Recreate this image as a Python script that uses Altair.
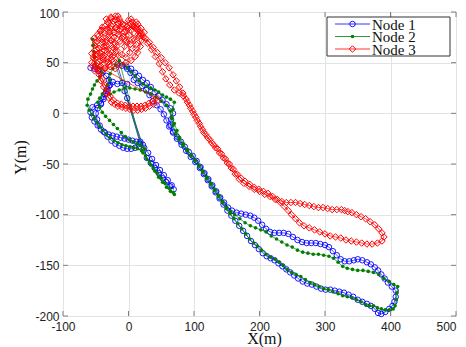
import altair as alt
import pandas as pd

names = ["Node 1", "Node 2", "Node 3"]
x_ticks = [-100, 0, 100, 200, 300, 400, 500]
y_ticks = [-200, -150, -100, -50, 0, 50, 100]

# Node 1 (blue, circles)
n1_x = [-58, -52, -46, -40, -34, -30, -28, -32, -36, -38,
        -42, -48, -55, -58, -56, -52, -47, -42, -36, -30,
        -24, -18, -12, -6, 0, 6, 12, 18, 22, 16,
        10, 4, -2, -8, -14, -20, -26, -32, -38, -44,
        -48, -50, -47, -42, -38, -34, -30, -24, -17, -10,
        -2, -6, -2, 28, 34, 40, 46, 52, 58, 64,
        69, 66, 60, 54, 48, 42, 36, 30, 24, 18,
        -17, -10, -3, 4, 10, 16, 22, 28, 34, 40,
        46, 52, 58, 64, 68, 65, 64, 68, 74, 80,
        86, 92, 98, 104, 110, 116, 122, 128, 134, 140,
        146, 152, 158, 165, 172, 179, 186, 192, 198, 204,
        210, 216, 223, 230, 237, 244, 251, 258, 265, 272,
        279, 286, 293, 300, 306, 312, 318, 324, 330, 337,
        344, 350, 357, 364, 370, 376, 381, 386, 391, 396,
        402, 408, 408, 406, 403, 398, 392, 386, 381, 376,
        370, 364, 357, 350, 343, 336, 329, 322, 315, 308,
        301, 294, 287, 280, 273, 266, 259, 253, 247, 241,
        235, 229, 223, 217, 211, 205, 199, 193, 187, 181,
        175, 169, 163, 157, 151, 145, 139, 133, 127, 121,
        115, 109, 102, 95, 88, 81, 74, 68, 62, 58,
        54, 49, 43, 37, 32, 27, 21, 14, 8, 3,
        -2]
n1_y = [45, 44, 42, 40, 37, 33, 28, 24, 19, 14,
        10, 8, 6, 1, -4, -8, -12, -16, -19, -21,
        -22, -23, -24, -25, -26, -27, -28, -28, -31, -33,
        -34, -35, -35, -34, -32, -30, -27, -23, -18, -12,
        -6, 0, 5, 9, 16, 22, 27, 31, 29, 30,
        29, 22, 15, -44, -49, -54, -59, -64, -68, -72,
        -75, -71, -66, -61, -56, -51, -45, -39, -34, -30,
        48, 47, 46, 44, 40, 37, 33, 30, 26, 21,
        17, 13, 9, 5, 0, -6, -12, -18, -23, -28,
        -33, -38, -42, -47, -53, -59, -65, -71, -77, -83,
        -88, -93, -96, -98, -99, -100, -101, -103, -106, -110,
        -114, -117, -118, -118, -118, -119, -122, -125, -127, -128,
        -128, -128, -129, -130, -132, -136, -140, -144, -146, -146,
        -145, -144, -145, -147, -149, -152, -155, -159, -163, -167,
        -171, -175, -181, -186, -190, -193, -196, -198, -197, -193,
        -190, -188, -186, -184, -181, -179, -177, -176, -175, -174,
        -174, -173, -171, -169, -168, -166, -163, -160, -157, -154,
        -151, -148, -145, -143, -141, -138, -134, -130, -126, -121,
        -116, -111, -106, -101, -96, -90, -84, -78, -72, -66,
        -60, -54, -48, -43, -37, -31, -25, -19, -13, -7,
        -1, 4, 8, 12, 18, 23, 27, 30, 33, 40,
        44]

# Node 2 (green, dots)
n2_x = [-55, -54, -53, -52, -51, -47, -43, -40, -44, -48,
        -52, -55, -58, -62, -63, -60, -56, -52, -48, -44,
        -39, -34, -28, -22, -16, -10, -4, 2, 8, 14,
        20, 25, 19, 13, 7, 1, -5, -11, -17, -23,
        -29, -35, -40, -44, -47, -44, -40, -36, -32, -29,
        -28, -24, -20, 26, 32, 38, 44, 50, 56, 62,
        68, 70, 64, 58, 52, 46, 40, 34, 28, 22,
        -14, -8, -2, 4, 10, 16, 22, 28, 34, 40,
        46, 52, 58, 64, 70, 68, 66, 70, 74, 78,
        84, 90, 96, 102, 108, 114, 120, 126, 132, 138,
        144, 150, 156, 162, 170, 178, 186, 194, 202, 210,
        218, 226, 234, 242, 250, 258, 266, 274, 282, 290,
        298, 306, 313, 320, 327, 334, 342, 350, 358, 366,
        374, 382, 390, 398, 405, 411, 410, 409, 407, 404,
        398, 392, 386, 380, 374, 368, 362, 355, 348, 341,
        334, 327, 320, 312, 305, 298, 291, 284, 277, 270,
        263, 256, 249, 242, 236, 230, 224, 217, 210, 203,
        197, 191, 185, 179, 173, 167, 161, 155, 149, 143,
        137, 131, 125, 119, 113, 107, 101, 95, 89, 83,
        77, 72, 68, 66, 64, 58, 50, 42, 34, 26,
        18, 10, 2, -6, -14, -22, -28]
n2_y = [73, 67, 61, 55, 49, 46, 44, 40, 36, 32,
        28, 24, 19, 14, 8, 3, -1, -5, -9, -13,
        -17, -21, -24, -27, -29, -31, -32, -33, -34, -35,
        -37, -35, -32, -30, -28, -26, -23, -19, -15, -11,
        -7, -3, 1, 6, 11, 15, 19, 23, 28, 33,
        39, 44, 48, -42, -48, -54, -59, -64, -69, -74,
        -78, -80, -77, -73, -68, -63, -57, -51, -45, -39,
        52, 49, 45, 41, 37, 32, 29, 27, 25, 23,
        21, 18, 16, 14, 11, 4, -3, -10, -17, -24,
        -30, -36, -41, -46, -51, -57, -63, -69, -75, -81,
        -87, -93, -97, -100, -104, -108, -111, -113, -115, -117,
        -121, -124, -127, -130, -132, -135, -137, -138, -139, -139,
        -140, -141, -143, -147, -151, -153, -154, -155, -155, -156,
        -157, -159, -163, -166, -169, -171, -177, -184, -190, -193,
        -194, -194, -193, -192, -190, -190, -189, -186, -184, -182,
        -181, -180, -178, -176, -174, -173, -171, -169, -167, -164,
        -161, -159, -157, -154, -150, -147, -144, -142, -139, -135,
        -131, -128, -124, -119, -114, -109, -104, -99, -94, -88,
        -82, -76, -70, -64, -58, -52, -47, -42, -37, -32,
        -26, -20, -12, -5, 2, 8, 12, 16, 19, 21,
        23, 24, 25, 25, 23, 21, 19]

# Node 3 (red, diamonds)
n3_x = [44, 38, 32, 26, 20, 14, 8, 2, -4, -10,
        -16, -21, -26, -30, -34, -38, -42, -45, -48, -44,
        -40, -36, -32, -28, -23, -17, -11, -5, 1, 7,
        13, 19, 25, 31, 37, 42,
        -50, -54, -52, -47, -42, -45, -50, -46, -40, -36,
        -38, -32, -28, -33, -38, -42, -36, -30, -26, -22,
        -25, -20, -15, -18, -22, -28, -32, -26, -20, -16,
        -12, -14, -10, -6, -10, -4, 2, -2, -6, -2,
        4, 8, 12, 6, 14, 18, 16, 12, 6, 0,
        -8, -20, -34, -44, -56, -52, -44, -36, -28, -20,
        -12, -4, 4, 10, 20, 24, 14, 4,
        -55, -49, -43, -36, -29, -25, -31, -38, -45, -52,
        -56, -50, -44, -37, -30, -23, -18, -24, -31, -38,
        -45, -52, -53, -48, -41, -34, -27, -20, -13, -8,
        -15, -22, -29, -36, -43, -47, -40, -33, -26, -19,
        -12, -16, -23, -30, -34, -27, -20, -14, -9, -4,
        1, -3, 3, 9, 15, 19, 12, 6, 0,
        8, 14, 20, 26, 32, 38, 44, 50, 56, 62,
        68, 73, 78, 83, 88, 93, 98, 103, 108, 113,
        118, 124, 130, 136, 142, 148, 154, 160, 166, 172,
        178, 185, 192, 199, 206, 213, 220, 227, 234, 241,
        248, 255, 262, 269, 276, 283, 290, 297, 304, 311,
        318, 325, 330, 335, 341, 348, 355, 362, 369, 376,
        382, 387, 390, 387, 380, 372, 364, 356, 348, 340,
        332, 324, 316, 308, 300, 292, 284, 276, 268, 261,
        255, 249, 244, 238, 232, 224, 216, 208, 200, 192,
        184, 176, 169, 163, 157, 151, 145, 139, 133, 127,
        121, 115, 110, 105, 100, 95, 90, 84, 77, 70,
        63, 57, 52, 47, 41, 35, 29, 23, 17, 10,
        3]
n3_y = [12, 9, 7, 5, 4, 3, 3, 4, 5, 6,
        7, 9, 11, 15, 20, 26, 32, 38, 44, 40,
        34, 28, 22, 17, 13, 10, 9, 8, 7, 7,
        7, 7, 8, 10, 12, 15,
        48, 55, 62, 58, 52, 64, 70, 76, 70, 62,
        55, 50, 58, 66, 75, 82, 86, 80, 72, 64,
        56, 50, 57, 66, 75, 84, 90, 94, 92, 96,
        90, 82, 74, 66, 58, 55, 60, 70, 80, 86,
        82, 74, 68, 64, 60, 66, 76, 84, 90, 92,
        88, 84, 72, 60, 50, 42, 46, 44, 46, 44,
        48, 50, 52, 56, 72, 80, 88, 93,
        47, 45, 47, 45, 48, 53, 51, 53, 51, 54,
        59, 58, 60, 57, 59, 57, 62, 65, 63, 66,
        64, 67, 74, 71, 73, 70, 72, 69, 71, 76,
        78, 80, 77, 79, 81, 78, 85, 83, 86, 85,
        83, 89, 91, 89, 93, 95, 96, 93, 88, 82,
        77, 72, 68, 72, 78, 84, 90, 86, 84,
        86, 82, 78, 74, 70, 65, 60, 55, 50, 45,
        38, 32, 26, 20, 14, 8, 2, -4, -10, -16,
        -21, -26, -31, -35, -40, -45, -50, -55, -60, -64,
        -67, -70, -73, -75, -77, -79, -82, -85, -87, -88,
        -88, -88, -89, -90, -91, -92, -93, -93, -94, -95,
        -95, -95, -96, -97, -98, -100, -102, -104, -107, -110,
        -114, -118, -122, -126, -128, -129, -129, -128, -127, -126,
        -125, -123, -122, -121, -119, -117, -115, -113, -111, -108,
        -104, -100, -96, -92, -88, -85, -82, -80, -77, -75,
        -72, -69, -65, -60, -54, -49, -44, -39, -34, -29,
        -24, -19, -13, -7, -1, 5, 11, 17, 20, 23,
        28, 34, 41, 49, 56, 63, 69, 75, 80, 84,
        88]

W, H = 393, 304
FRAME = "#808080"


def frame(xs, ys):
    return pd.DataFrame({"x": xs, "y": ys, "i": list(range(len(xs)))})


xscale = alt.Scale(domain=[-100, 500], nice=False, zero=False)
yscale = alt.Scale(domain=[-200, 100], nice=False, zero=False)

common = dict(grid=True, ticks=False, domain=False, labelFlush=False, labelOverlap=False,
              labelExpr="'' + datum.value", labelFont="Liberation Sans", labelFontSize=12,
              labelColor="#222222", gridColor="#e3e3e3", gridWidth=1,
              titleFont="Liberation Serif", titleFontSize=16, titleFontWeight="normal",
              titleColor="#111111", titleBaseline="middle")
xaxis = alt.Axis(values=x_ticks, title="X(m)", labelPadding=5, titleX=201, titleY=22,
                 labelOffset={"condition": {"test": "datum.value == 500", "value": -10}, "value": 0},
                 **common)
yaxis = alt.Axis(values=y_ticks, title="Y(m)", labelPadding=4, titleX=-43, titleY=145,
                 labelOffset={"condition": {"test": "datum.value == 100", "value": 1.5}, "value": 0},
                 **common)

X = alt.X("x:Q", scale=xscale, axis=xaxis)
Y = alt.Y("y:Q", scale=yscale, axis=yaxis)

layers = []
styles = [
    (n1_x, n1_y, "#0000ff", dict(shape="circle", filled=False, size=30, strokeWidth=0.9)),
    (n2_x, n2_y, "#008000", dict(shape="circle", filled=True, size=13, strokeWidth=0)),
    (n3_x, n3_y, "#ff0000", dict(shape="diamond", filled=False, size=42, strokeWidth=1)),
]
for xs, ys, col, pst in styles:
    df = frame(xs, ys)
    base = alt.Chart(df)
    layers.append(base.mark_line(color=col, strokeWidth=0.7).encode(x=X, y=Y, order="i:Q"))
    layers.append(base.mark_point(color=col, opacity=1, **pst).encode(x=X, y=Y))

# inward ticks on the box
xt = alt.Chart(pd.DataFrame({"x": x_ticks}))
yt = alt.Chart(pd.DataFrame({"y": y_ticks}))
layers.append(xt.mark_rule(color=FRAME, strokeWidth=1).encode(x=X, y=alt.value(0), y2=alt.value(5)))
layers.append(xt.mark_rule(color=FRAME, strokeWidth=1).encode(x=X, y=alt.value(H - 5), y2=alt.value(H)))
layers.append(yt.mark_rule(color=FRAME, strokeWidth=1).encode(y=Y, x=alt.value(0), x2=alt.value(5)))
layers.append(yt.mark_rule(color=FRAME, strokeWidth=1).encode(y=Y, x=alt.value(W - 5), x2=alt.value(W)))

# legend box
one = alt.Chart(pd.DataFrame({"name": ["legend"]}))
layers.append(one.mark_rect(fill="white", stroke="#333333", strokeWidth=1).encode(
    x=alt.value(264), x2=alt.value(387), y=alt.value(5), y2=alt.value(44)))
rows_y = [12, 24.5, 37]
for i, (xs, ys, col, pst) in enumerate(styles):
    d = alt.Chart(pd.DataFrame({"name": [names[i]]}))
    layers.append(d.mark_rule(color=col, strokeWidth=0.8).encode(
        x=alt.value(272), x2=alt.value(307), y=alt.value(rows_y[i])))
    layers.append(d.mark_point(color=col, opacity=1, **pst).encode(
        x=alt.value(289.5), y=alt.value(rows_y[i])))
    layers.append(d.mark_text(align="left", baseline="middle", font="Liberation Serif",
                              fontSize=15, color="#111111").encode(
        x=alt.value(309), y=alt.value(rows_y[i] + 0.5), text="name:N"))

chart = alt.layer(*layers).properties(
    width=W, height=H,
    autosize=alt.AutoSizeParams(type="none"),
    padding={"left": 55, "top": 4, "right": 2, "bottom": 31},
).configure_view(stroke=FRAME, strokeWidth=1.5).configure(background="white")

chart.save("out.html", embed_options={"renderer": "svg", "actions": False})
